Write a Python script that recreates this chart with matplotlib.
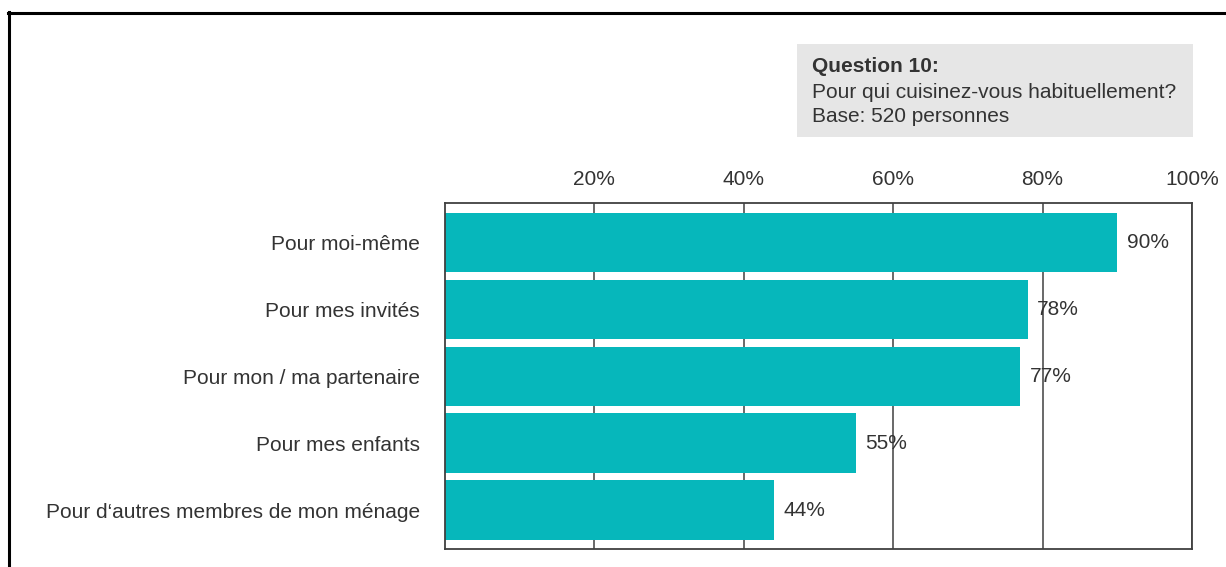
import matplotlib
matplotlib.use("Agg")
import matplotlib.pyplot as plt
from matplotlib.lines import Line2D
from matplotlib.patches import Rectangle

categories = ["Pour moi-même", "Pour mes invités", "Pour mon / ma partenaire",
              "Pour mes enfants", "Pour d\u2018autres membres de mon ménage"]
values = [90, 78, 77, 55, 44]
xticks = [20, 40, 60, 80, 100]
xtick_labels = ["20%", "40%", "60%", "80%", "100%"]

W, H = 1226, 567
plt.rcParams["font.family"] = ["Liberation Sans", "DejaVu Sans"]
txt = "#333333"
teal = "#06B7BB"
fs = 15

fig = plt.figure(figsize=(W / 100, H / 100), dpi=100)
ax = fig.add_axes([445 / W, 1 - 549 / H, (1192 - 445) / W, (549 - 203) / H])

y = list(range(len(categories)))
ax.barh(y, values, height=0.89, color=teal, zorder=2)
for yi, v in zip(y, values):
    ax.text(v + 1.3, yi, f"{v}%", va="center", ha="left", fontsize=fs, color=txt, zorder=1)

ax.set_xlim(0, 100)
ax.set_ylim(len(categories) - 0.42, -0.59)
ax.set_yticks(y)
ax.set_yticklabels(categories, fontsize=fs, color=txt)
ax.set_xticks(xticks)
ax.set_xticklabels(xtick_labels, fontsize=fs, color=txt)
ax.xaxis.tick_top()
ax.tick_params(axis="x", length=0, pad=10)
ax.tick_params(axis="y", length=0, pad=18)
ax.grid(axis="x", color="#404040", lw=1.1, zorder=0)
ax.set_axisbelow(True)
for s in ax.spines.values():
    s.set_color("#404040")
    s.set_linewidth(1.3)

# question box
fig.patches.append(Rectangle((797 / W, 1 - 137 / H), (1193 - 797) / W, (137 - 44) / H,
                             transform=fig.transFigure, facecolor="#E6E6E6",
                             edgecolor="none", zorder=0))
fig.text(812 / W, 1 - 72 / H, "Question 10:", fontsize=fs, fontweight="bold",
         color=txt, va="baseline")
fig.text(812 / W, 1 - 98 / H, "Pour qui cuisinez-vous habituellement?", fontsize=fs,
         color=txt, va="baseline")
fig.text(812 / W, 1 - 122 / H, "Base: 520 personnes", fontsize=fs,
         color=txt, va="baseline")

# frame lines top and left
fig.lines.append(Line2D([8 / W, 1], [1 - 13 / H, 1 - 13 / H], transform=fig.transFigure,
                        color="black", lw=2.2))
fig.lines.append(Line2D([9 / W, 9 / W], [1 - 12 / H, 0], transform=fig.transFigure,
                        color="black", lw=2.2))

fig.savefig("out.png", dpi=100)
